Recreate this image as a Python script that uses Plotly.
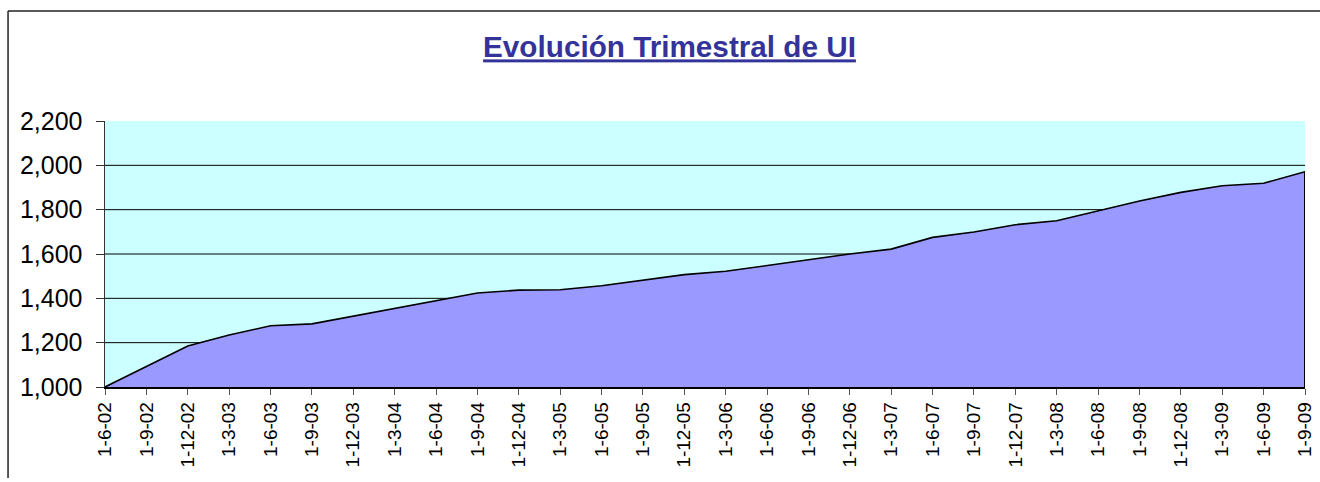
import plotly.graph_objects as go

# --- data ---
fechas = ["1-6-02", "1-9-02", "1-12-02", "1-3-03", "1-6-03", "1-9-03", "1-12-03",
          "1-3-04", "1-6-04", "1-9-04", "1-12-04", "1-3-05", "1-6-05", "1-9-05",
          "1-12-05", "1-3-06", "1-6-06", "1-9-06", "1-12-06", "1-3-07", "1-6-07",
          "1-9-07", "1-12-07", "1-3-08", "1-6-08", "1-9-08", "1-12-08", "1-3-09",
          "1-6-09", "1-9-09"]
ui_valores = [1000, 1092, 1185, 1235, 1276, 1285, 1320, 1353, 1388, 1424,
              1437, 1439, 1457, 1483, 1507, 1522, 1549, 1573, 1600, 1622,
              1675, 1699, 1732, 1750, 1794, 1839, 1878, 1908, 1919, 1971]
y_ticks = [1000, 1200, 1400, 1600, 1800, 2000, 2200]
y_min, y_max = 1000, 2200

idx = list(range(len(fechas)))

fig = go.Figure()
fig.add_trace(go.Scatter(
    x=idx, y=ui_valores, mode="lines",
    line=dict(color="black", width=1.6),
    fill="tozeroy", fillcolor="#9999FF",
    hoverinfo="skip", showlegend=False,
))

shapes = []
# horizontal gridlines (behind the area)
for v in y_ticks[1:-1]:
    shapes.append(dict(type="line", xref="paper", yref="y", x0=0, x1=1, y0=v, y1=v,
                       line=dict(color="black", width=1), layer="below"))
# right edge of the area
shapes.append(dict(type="line", xref="x", yref="y", x0=idx[-1], x1=idx[-1],
                   y0=y_min, y1=ui_valores[-1], line=dict(color="black", width=2)))
# outer chart frame (top and left)
shapes.append(dict(type="line", xref="paper", yref="paper", x0=-0.0808, x1=1.0125,
                   y0=1.4135, y1=1.4135, line=dict(color="#222222", width=1.5)))
shapes.append(dict(type="line", xref="paper", yref="paper", x0=-0.0808, x1=-0.0808,
                   y0=1.4135, y1=-0.342, line=dict(color="#222222", width=1.5)))

fig.update_layout(
    width=1320, height=482,
    margin=dict(l=105, r=15, t=121, b=95, autoexpand=False),
    paper_bgcolor="white",
    plot_bgcolor="#CCFFFF",
    font=dict(family="Arial, Liberation Sans, sans-serif", color="black"),
    title=dict(
        text="<b><u>Evolución Trimestral de UI</u></b>",
        font=dict(size=29.7, color="#333399", family="Arial, Liberation Sans, sans-serif"),
        x=669.5 / 1320, xanchor="center", xref="container",
        y=1 - 47 / 482, yanchor="middle", yref="container",
    ),
    shapes=shapes,
)

fig.update_xaxes(
    range=[0, len(fechas) - 1],
    tickmode="array", tickvals=idx, ticktext=fechas,
    tickangle=-90, tickfont=dict(size=19),
    ticks="outside", ticklen=6, tickcolor="#555555", tickwidth=1,
    showline=True, linecolor="black", linewidth=1.5,
    showgrid=False, zeroline=False, fixedrange=True, automargin=False,
)
fig.update_yaxes(
    range=[y_min, y_max],
    tickmode="array", tickvals=y_ticks, ticktext=[f"{v:,}" for v in y_ticks],
    tickfont=dict(size=25),
    ticks="outside", ticklen=8, tickcolor="#333333", tickwidth=1,
    ticklabelstandoff=8,
    showline=True, linecolor="#333333", linewidth=1.5,
    showgrid=False, zeroline=False, fixedrange=True, automargin=False,
)

fig.write_html("out.html",
               config={"displayModeBar": False, "staticPlot": True},
               post_script="document.documentElement.style.overflow='hidden';"
                           "document.body.style.margin='0';document.body.style.padding='0';"
                           "document.body.style.overflow='hidden';")
